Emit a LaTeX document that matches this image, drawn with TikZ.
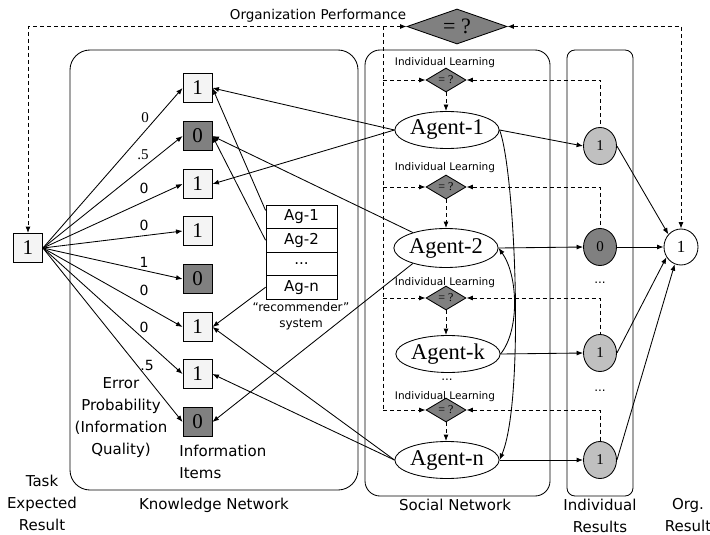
\documentclass[tikz,border=0pt]{standalone}
\usepackage{fontspec}
\setmainfont{Liberation Serif}
\newfontfamily\labfont{DejaVu Sans}
\usetikzlibrary{shapes.geometric,arrows.meta}
\definecolor{darkfill}{HTML}{808080}
\definecolor{lightfill}{HTML}{F4F4F4}
\definecolor{midfill}{HTML}{C0C0C0}
\begin{document}
\begin{tikzpicture}[x=1pt,y=-1pt,line width=0.85pt,
  >={Latex[length=6.5pt,width=5pt]},
  item/.style={draw,minimum width=29pt,minimum height=29pt,inner sep=0pt,font=\fontsize{21}{21}\selectfont},
  itemon/.style={item,fill=lightfill},
  itemoff/.style={item,fill=darkfill},
  weight/.style={font=\fontsize{15}{15}\selectfont,inner sep=0pt},
  sweight/.style={font=\labfont\fontsize{14}{14}\selectfont,inner sep=0pt},
  agent/.style={ellipse,draw,fill=white,minimum width=94pt,minimum height=37pt,inner sep=0pt,font=\fontsize{22.5}{22.5}\selectfont},
  result/.style={ellipse,draw,minimum width=33pt,minimum height=37pt,inner sep=0pt,font=\fontsize{15}{15}\selectfont},
  cmp/.style={diamond,draw,fill=darkfill,minimum width=40pt,minimum height=24pt,aspect=1.67,inner sep=0pt,font=\fontsize{12}{12}\selectfont},
  panel/.style={draw,rounded corners=#1},
  caption/.style={font=\labfont\fontsize{15}{22}\selectfont,align=center,inner sep=0pt},
  illabel/.style={font=\labfont\fontsize{10.5}{10.5}\selectfont,inner sep=0pt},
  dots/.style={font=\labfont\fontsize{12}{12}\selectfont,inner sep=0pt},
  recrow/.style={draw,minimum width=71pt,minimum height=23.5pt,inner sep=0pt,font=\labfont\fontsize{15}{15}\selectfont},
  feedback/.style={dash pattern=on 4pt off 3pt},
]
\useasboundingbox (0,0) rectangle (710,535);

% the three network panels
\draw[panel=20pt] (70,50) rectangle (358,490);
\draw[panel=15pt] (365,50) rectangle (550,496);
\draw[panel=8pt] (567,50) rectangle (633,496);

% task result and information items
\node[itemon] (task) at (28,248) {1};
\node[itemon]  (it1) at (197.5,88)  {1};
\node[itemoff] (it2) at (197.5,136) {0};
\node[itemon]  (it3) at (197.5,184) {1};
\node[itemon]  (it4) at (197.5,231) {1};
\node[itemoff] (it5) at (197.5,279) {0};
\node[itemon]  (it6) at (197.5,327) {1};
\node[itemon]  (it7) at (197.5,374) {1};
\node[itemoff] (it8) at (197.5,422) {0};
\foreach \i in {1,...,8} \draw[->] (task.east) -- (it\i.west);

% error probabilities
\node[weight]  (w1) at (145,118) {0};
\node[weight]  (w2) at (143,155) {.5};
\node[sweight] (w3) at (144,188) {0};
\node[sweight] (w4) at (144,225) {0};
\node[sweight] (w5) at (144,262) {1};
\node[sweight] (w6) at (144,290) {0};
\node[sweight] (w7) at (144,327) {0};
\node[sweight] (w8) at (147,365) {.5};

% recommender system
\node[recrow] (recA) at (301.5,216.75) {Ag-1};
\node[recrow] (recB) at (301.5,240.25) {Ag-2};
\node[recrow] (recC) at (301.5,263.75) {...};
\node[recrow] (recD) at (301.5,287.25) {Ag-n};
\node[font=\labfont\fontsize{12}{16.5}\selectfont,align=center,inner sep=0pt] (recname) at (301,316) {“recommender”\\system};
\draw[->] (recA.170) -- (it1.east);
\draw[->] (recB.west) -- (it2.east);
\draw[->] (recD.west) -- (it6.east);

% agents
\node[agent] (ag1) at (447,130) {Agent-1};
\node[agent,minimum width=96pt,minimum height=39pt] (ag2) at (446,248) {Agent-2};
\node[agent] (agk) at (448,354) {Agent-k};
\node[agent] (agn) at (447,460) {Agent-n};
\node[dots] (dotsk) at (447,380) {...};

\draw[->] (ag1.west) -- (it1.east);
\draw[->] (ag1.west) -- (it3.east);
\draw[->] (ag2.155) -- (it2.east);
\draw[->] (ag2.205) -- (it8.east);
\draw[->] (agn.west) -- (it6.east);
\draw[->] (agn.west) -- (it7.east);

\draw[->] (ag1.east) .. controls (515,170) and (525,400) .. (agn.east);
\draw[->] (agk.east) .. controls (520,330) and (518,275) .. (ag2.east);

% individual results and organization result
\node[result,fill=midfill]  (r1) at (600,146) {1};
\node[result,fill=darkfill] (r2) at (600,247) {0};
\node[result,fill=midfill]  (r3) at (600,353) {1};
\node[result,fill=midfill]  (r4) at (600,460) {1};
\node[dots] (dotsr1) at (600,283) {...};
\node[dots] (dotsr2) at (600,391) {...};
\node[result,fill=white,minimum width=34pt,minimum height=36pt,font=\fontsize{17}{17}\selectfont] (org) at (681,247) {1};

\draw[->] (ag1.east) -- (r1.west);
\draw[->] (ag2.east) -- (r2.west);
\draw[->] (agk.east) -- (r3.west);
\draw[->] (agn.east) -- (r4.west);

\draw[->] (r1.east) -- (org.135);
\draw[->] (r2.east) -- (org.west);
\draw[->] (r3.east) -- (org.215);
\draw[->] (r4.east) -- (org.250);

% organization performance feedback
\node[cmp,minimum width=100pt,minimum height=35pt,aspect=2.86,font=\fontsize{22}{22}\selectfont] (orgcmp) at (457,26.5) {= ?};
\node[font=\labfont\fontsize{13.5}{13.5}\selectfont,inner sep=0pt] (orgperf) at (318,16) {Organization Performance};
\draw[feedback,<->] (orgcmp.west) -| (task.north);
\draw[feedback,<->] (orgcmp.east) -| (org.north);

\coordinate (spineTop) at (383,26.5);
\coordinate (spineBot) at (383,410);
\draw[feedback] (spineTop) -- (spineBot);

% individual learning feedback
\foreach \c/\y/\ly/\a/\r in {c1/80/63/ag1/r1, c2/187/168/ag2/r2, c3/298/283/agk/r3, c4/410/397/agn/r4}{
  \node[cmp] (\c) at (446,\y) {= ?};
  \node[illabel] (\c lab) at (445,\ly) {Individual Learning};
  \draw[feedback,->] (spineTop |- \c.west) -- (\c.west);
  \draw[feedback,<-] (\c.east) -| (\r.north);
  \draw[feedback,->] (\c.south) -- (\c.south |- \a.north);
}

% captions
\node[caption] (capTask) at (42,503) {Task\\Expected\\Result};
\node[caption] (capKN) at (214,505) {Knowledge Network};
\node[caption] (capSN) at (455,505) {Social Network};
\node[caption] (capIR) at (600,516) {Individual\\Results};
\node[caption] (capOrg) at (688,515) {Org.\\Result};
\node[caption] (capErr) at (121,418) {Error\\Probability\\(Information\\Quality)};
\node[caption,align=left,anchor=west] (capInfo) at (179,462) {Information\\Items};
\end{tikzpicture}
\end{document}
